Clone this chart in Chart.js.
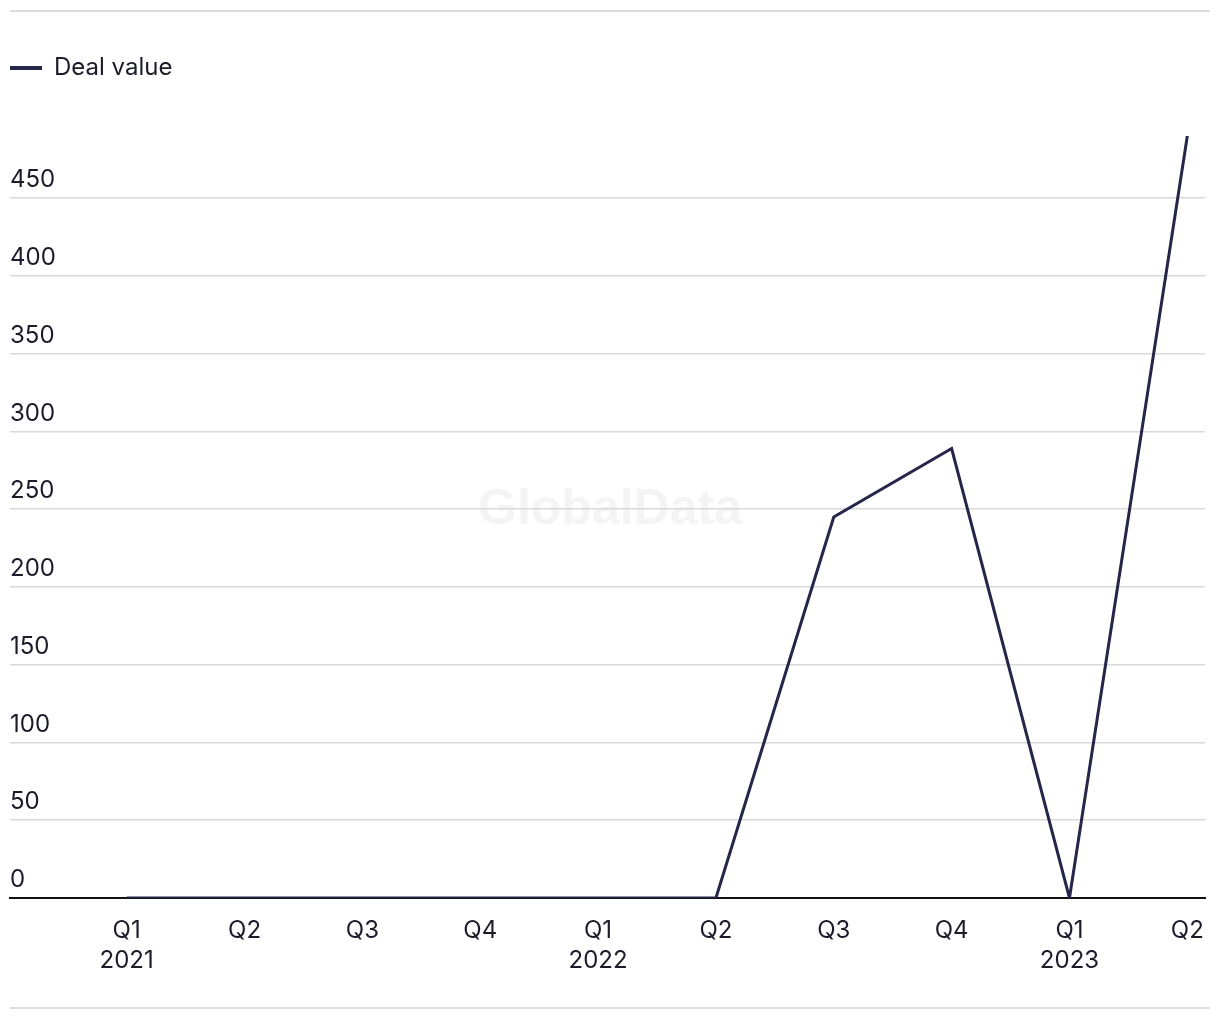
<!DOCTYPE html>
<html lang="en">
  <head>
    <meta charset="UTF-8" />
    <title>Deal value</title>
    <style>
      body { margin: 0; background: #fff; }
      .wrap { position: relative; width: 1220px; height: 1020px; }
      .rule { position: absolute; left: 10px; width: 1200px; height: 2px; background: #dcdcdc; }
      .box { position: absolute; left: 0; top: 12px; width: 1220px; height: 994px; }
    </style>
    <script src="https://cdn.jsdelivr.net/npm/chart.js@4/dist/chart.umd.min.js"></script>
  </head>
  <body>
    <div class="wrap">
      <div class="rule" style="top: 10px"></div>
      <div class="box"><canvas id="dealChart"></canvas></div>
      <div class="rule" style="top: 1007px"></div>
    </div>
    <script>
      var quarters = ["Q1", "Q2", "Q3", "Q4", "Q1", "Q2", "Q3", "Q4", "Q1", "Q2"];
      var years = ["2021", "", "", "", "2022", "", "", "", "2023", ""];
      var dealValue = [0, 0, 0, 0, 0, 0, 245, 289, 0, 490];

      var ink = "#1b1b2a";
      var navy = "#26254a";
      var font = "Inter, 'Liberation Sans', sans-serif";

      // faint watermark behind the grid
      var watermark = {
        id: "watermark",
        beforeDraw: function (chart) {
          var ctx = chart.ctx;
          ctx.save();
          ctx.font = "bold 50px 'Liberation Sans', Arial, sans-serif";
          ctx.fillStyle = "#f4f4f4";
          ctx.textAlign = "center";
          ctx.textBaseline = "middle";
          ctx.fillText("GlobalData", 610, 498);
          ctx.restore();
        },
      };

      // extra room under the legend
      var legendGap = {
        id: "legendGap",
        beforeInit: function (chart) {
          var fit = chart.legend.fit;
          chart.legend.fit = function () {
            fit.bind(chart.legend)();
            this.height += 46;
          };
        },
      };

      var points = dealValue.map(function (v, i) {
        return { x: i, y: v };
      });

      new Chart(document.getElementById("dealChart"), {
        type: "line",
        data: {
          datasets: [
            {
              label: "Deal value",
              data: points,
              borderColor: navy,
              backgroundColor: navy,
              borderWidth: 3,
              pointRadius: 0,
              tension: 0,
            },
          ],
        },
        options: {
          responsive: true,
          maintainAspectRatio: false,
          animation: false,
          layout: { padding: { left: 10, right: 15, top: 44, bottom: 20 } },
          plugins: {
            tooltip: { enabled: false },
            legend: {
              position: "top",
              align: "start",
              labels: {
                usePointStyle: true,
                pointStyle: "line",
                pointStyleWidth: 32,
                padding: 0,
                color: ink,
                font: { family: font, size: 24 },
                generateLabels: function (chart) {
                  var items = Chart.defaults.plugins.legend.labels.generateLabels(chart);
                  items.forEach(function (it) {
                    it.lineWidth = 4;
                    it.strokeStyle = navy;
                  });
                  return items;
                },
              },
            },
          },
          scales: {
            x: {
              type: "linear",
              min: -0.99,
              max: 9.15,
              afterBuildTicks: function (axis) {
                axis.ticks = quarters.map(function (q, i) {
                  return { value: i };
                });
              },
              grid: { display: false },
              border: { display: true, color: "#111", width: 2 },
              ticks: {
                autoSkip: false,
                maxRotation: 0,
                padding: 10,
                color: ink,
                font: { family: font, size: 24, lineHeight: 1.25 },
                callback: function (v) {
                  return years[v] ? [quarters[v], years[v]] : quarters[v];
                },
              },
            },
            y: {
              min: 0,
              max: 490,
              border: { display: false },
              grid: {
                drawTicks: false,
                lineWidth: 1.5,
                color: function (c) {
                  return c.tick && c.tick.value === 0 ? "rgba(0,0,0,0)" : "#d9d9d9";
                },
              },
              ticks: {
                stepSize: 50,
                includeBounds: false,
                mirror: true,
                padding: 0,
                labelOffset: -18,
                color: ink,
                font: { family: font, size: 24 },
              },
            },
          },
        },
        plugins: [watermark, legendGap],
      });
    </script>
  </body>
</html>
